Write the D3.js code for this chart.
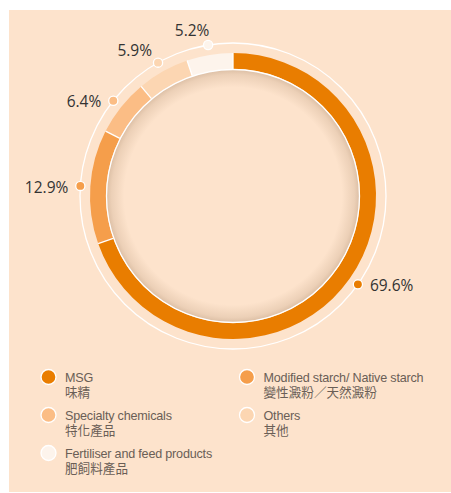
<!DOCTYPE html>
<html>
<head>
<meta charset="utf-8">
<script src="https://cdn.jsdelivr.net/npm/d3@7"></script>
<style>
  body { margin: 0; background: #fff; }
</style>
</head>
<body>
<div id="container"></div>
<script>
let w = 451;
let h = 493;

// DATA
let categoriesEn = ["MSG", "Modified starch/ Native starch", "Specialty chemicals", "Others", "Fertiliser and feed products"];
let categoriesZh = ["味精", "變性澱粉／天然澱粉", "特化產品", "其他", "肥飼料產品"];
let shares = [69.6, 12.9, 6.4, 5.9, 5.2];
let colors = ["#e97d00", "#f59e4b", "#fbbd85", "#fcd6b2", "#fdf4ec"];

// label offsets from each dot: [dx, dy, anchor]
let labelPos = [[12, 6.5, "start"], [-12, 7.5, "end"], [-12, 6, "end"], [-6, -6.5, "end"], [-16, -9, "middle"]];

let bg = "#fde3cc";
let cx = 233, cy = 196;
let rIn = 127, rOut = 143, rGuide = 153;

let viz = d3.select("#container").append("svg")
    .attr("width", w)
    .attr("height", h)
    .style("display", "block");

viz.append("rect")
    .attr("x", 9).attr("y", 10)
    .attr("width", w - 9).attr("height", h - 11)
    .attr("fill", bg);

let defs = viz.append("defs");
let grad = defs.append("radialGradient").attr("id", "innerShadow");
grad.append("stop").attr("offset", "0.86").attr("stop-color", bg);
grad.append("stop").attr("offset", "0.96").attr("stop-color", "#ecd0b7");
grad.append("stop").attr("offset", "1").attr("stop-color", "#dcbfa5");

let g = viz.append("g").attr("transform", `translate(${cx},${cy})`);

// guide circle
g.append("circle")
    .attr("r", rGuide)
    .attr("fill", "none")
    .attr("stroke", "#fff")
    .attr("stroke-width", 1.3);

let pie = d3.pie().sort(null).value(d => d);
let arcs = pie(shares);
let arcMaker = d3.arc().innerRadius(rIn).outerRadius(rOut);

g.selectAll(".seg").data(arcs).enter()
    .append("path")
    .attr("class", "seg")
    .attr("d", arcMaker)
    .attr("fill", (d, i) => colors[i]);

// separators
g.selectAll(".sep").data(arcs).enter()
    .append("line")
    .attr("class", "sep")
    .attr("x1", d => rIn * Math.sin(d.startAngle))
    .attr("y1", d => -rIn * Math.cos(d.startAngle))
    .attr("x2", d => rOut * Math.sin(d.startAngle))
    .attr("y2", d => -rOut * Math.cos(d.startAngle))
    .attr("stroke", "#fff")
    .attr("stroke-width", 1.3);

// inner disc with shadow
g.append("circle")
    .attr("r", rIn - 0.5)
    .attr("fill", "url(#innerShadow)")
    .attr("stroke", "#fff")
    .attr("stroke-width", 1.3);

// dots + labels
let mid = d => (d.startAngle + d.endAngle) / 2;
let dotX = d => rGuide * Math.sin(mid(d));
let dotY = d => -rGuide * Math.cos(mid(d));

g.selectAll(".dot").data(arcs).enter()
    .append("circle")
    .attr("class", "dot")
    .attr("cx", dotX)
    .attr("cy", dotY)
    .attr("r", 4.6)
    .attr("fill", (d, i) => colors[i])
    .attr("stroke", "#fff")
    .attr("stroke-width", 1.3);

g.selectAll(".lbl").data(arcs).enter()
    .append("text")
    .attr("class", "lbl")
    .attr("x", (d, i) => dotX(d) + labelPos[i][0])
    .attr("y", (d, i) => dotY(d) + labelPos[i][1])
    .attr("text-anchor", (d, i) => labelPos[i][2])
    .style("font-family", "'Open Sans', sans-serif")
    .style("font-size", "15.5px")
    .style("fill", "#333")
    .text(d => d.data.toFixed(1) + "%");

// legend
let colX = d3.scalePoint().domain([0, 1]).range([48.5, 247]);
let rowY = d3.scalePoint().domain([0, 1, 2]).range([377, 453]);

let legend = viz.selectAll(".leg").data(categoriesEn).enter()
    .append("g")
    .attr("class", "leg")
    .attr("transform", (d, i) => `translate(${colX(i % 2)},${rowY(Math.floor(i / 2))})`);

legend.append("circle")
    .attr("r", 7.5)
    .attr("fill", (d, i) => colors[i])
    .attr("stroke", "#fff")
    .attr("stroke-width", 1.3);

legend.append("text")
    .attr("x", 16.5)
    .attr("y", 4.6)
    .style("font-family", "'Liberation Sans', Arial, sans-serif")
    .style("font-size", "12.6px")
    .style("letter-spacing", "-0.2px")
    .style("fill", "#6a5e56")
    .text(d => d);

legend.append("text")
    .attr("x", 16.5)
    .attr("y", 20)
    .style("font-family", "'Noto Sans CJK TC', sans-serif")
    .style("font-size", "12.6px")
    .style("fill", "#6a5e56")
    .text((d, i) => categoriesZh[i]);
</script>
</body>
</html>
